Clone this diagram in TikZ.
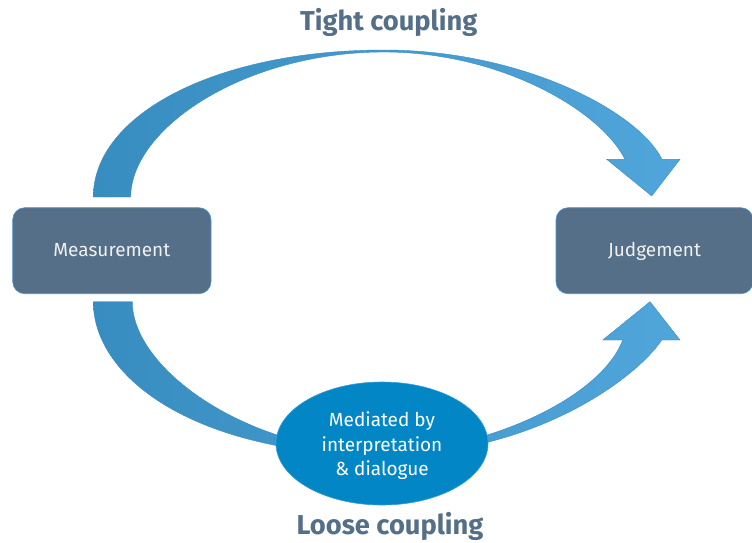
\documentclass[tikz,border=0pt]{standalone}
\usepackage{fontspec}
\setmainfont{Fira Sans}
\usetikzlibrary{shapes.geometric}
\definecolor{slate}{RGB}{84,111,135}
\definecolor{arrowL}{RGB}{56,141,192}
\definecolor{arrowR}{RGB}{80,165,218}
\definecolor{arrowEdge}{RGB}{60,140,195}
\definecolor{ellfill}{RGB}{3,134,198}
\definecolor{boxedge}{RGB}{80,150,205}
\newcommand{\medtext}[1]{\raisebox{-3pt}[\height][\depth]{\begin{tabular}{@{}c@{}}#1\end{tabular}}}
\tikzset{
  stagebox/.style={rectangle, rounded corners=12pt, fill=slate, draw=boxedge, line width=0.6pt,
    inner sep=0pt, text=white!94!black, font=\fontsize{19}{23}\selectfont,
    text height=14.6pt, text depth=4pt},
  bigarrow/.style={draw=arrowEdge, line width=0.4pt, left color=arrowL, right color=arrowR},
  title/.style={text=slate, font=\bfseries\fontsize{27.3}{32}\selectfont, anchor=base, inner sep=0pt},
  mediator/.style={ellipse, fill=ellfill, draw=ellfill!80!white, line width=0.6pt, inner sep=0pt,
    minimum width=212pt, minimum height=123pt, text=white,
    font=\fontsize{19}{24.5}\selectfont}
}
\begin{document}
\begin{tikzpicture}[x=1pt,y=-1pt]
\useasboundingbox (0,0) rectangle (752,542);
\fill[white] (0,0) rectangle (752,542);
% top arrow (tight coupling)
\coordinate (tOutL) at (93.3,197);
\coordinate (tOutTop) at (384,50);
\coordinate (tOutR) at (662,159.3);
\coordinate (tHeadR) at (680,159.3);
\coordinate (tTip) at (651.7,196);
\coordinate (tHeadL) at (606.7,159.3);
\coordinate (tInR) at (625,159.3);
\coordinate (tInTop) at (384,52);
\coordinate (tInL) at (130.7,197);
\path[bigarrow] (tOutL) .. controls (93.3,115) and (215,50) .. (tOutTop)
  .. controls (520,50) and (637,110) .. (tOutR) -- (tHeadR) -- (tTip) -- (tHeadL) -- (tInR)
  .. controls (600,110) and (500,52) .. (tInTop)
  .. controls (245,52) and (131,128) .. (tInL) -- cycle;
% bottom arrow (loose coupling)
\coordinate (bOutL) at (93.3,301.7);
\coordinate (bOutBot) at (382,455);
\coordinate (bOutR) at (661.7,340);
\coordinate (bHeadR) at (680,340);
\coordinate (bTip) at (650,301.7);
\coordinate (bHeadL) at (602.7,340);
\coordinate (bInR) at (622.7,340);
\coordinate (bInBot) at (382,452);
\coordinate (bInL) at (132.3,301.7);
\path[bigarrow] (bOutL) .. controls (93.3,380) and (200,455) .. (bOutBot)
  .. controls (530,456) and (635,380) .. (bOutR) -- (bHeadR) -- (bTip) -- (bHeadL) -- (bInR)
  .. controls (600,400) and (480,452) .. (bInBot)
  .. controls (250,452) and (132.3,370) .. (bInL) -- cycle;
% nodes
\node[stagebox, minimum width=198.3pt, minimum height=86pt] (meas) at (111.85,250.7) {Measurement};
\node[stagebox, minimum width=197pt, minimum height=86pt] (judg) at (654.5,250.7) {Judgement};
\node[mediator] (med) at (382,443.5) {\medtext{Mediated by\\interpretation\\\&~dialogue}};
\node[title] (tight) at (388.7,30) {Tight coupling};
\node[title] (loose) at (390,534.3) {Loose coupling};
\end{tikzpicture}
\end{document}
